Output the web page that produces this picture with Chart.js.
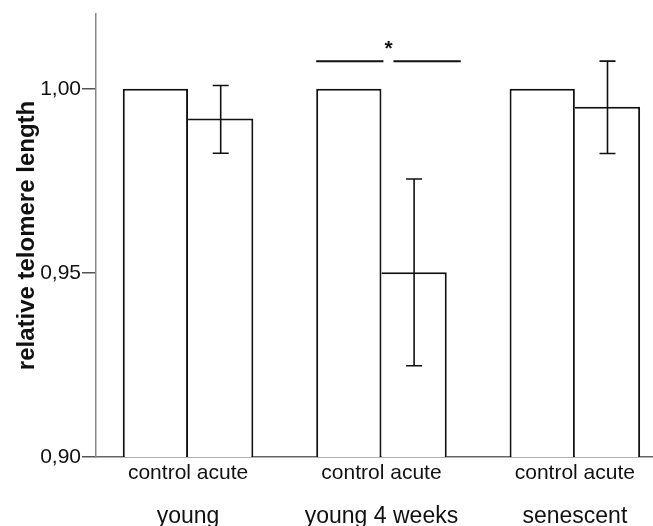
<!DOCTYPE html>
<html><head><meta charset="utf-8">
<script src="https://cdn.jsdelivr.net/npm/chart.js@4.4.0/dist/chart.umd.min.js"></script>
<style>html,body{margin:0;padding:0;background:#fff}#wrap{width:653px;height:526px;position:relative}</style>
</head><body><div id="wrap"><canvas id="c"></canvas></div>
<script>
// ---- data ----
const groups = ['young', 'young 4 weeks', 'senescent'];
const conditions = ['control', 'acute'];
const controlValues = [1.000, 1.000, 1.000];
const acuteValues = [0.9919, 0.9502, 0.9951];
const acuteErrLow = [0.9825, 0.9248, 0.9824];
const acuteErrHigh = [1.0009, 0.9755, 1.0075];
const yTicks = [0.90, 0.95, 1.00];
const sigGroup = 'young 4 weeks';
const sigLevel = 1.0075;
const sigLabel = '*';

const FONT = "'Liberation Sans', Arial, sans-serif";
Chart.defaults.font.family = FONT;

const overlay = {
  id: 'overlay',
  afterDatasetsDraw(chart) {
    const ctx = chart.ctx, ys = chart.scales.y;
    const acuteMeta = chart.getDatasetMeta(1);
    const ctrlMeta = chart.getDatasetMeta(0);
    ctx.save();
    ctx.strokeStyle = '#111';
    ctx.lineWidth = 1.6;
    acuteMeta.data.forEach((bar, i) => {
      const yh = ys.getPixelForValue(acuteErrHigh[i]);
      const yl = ys.getPixelForValue(acuteErrLow[i]);
      ctx.beginPath();
      ctx.moveTo(bar.x, yh); ctx.lineTo(bar.x, yl);
      ctx.moveTo(bar.x - 8, yh); ctx.lineTo(bar.x + 8, yh);
      ctx.moveTo(bar.x - 8, yl); ctx.lineTo(bar.x + 8, yl);
      ctx.stroke();
    });
    // significance bracket
    const gi = groups.indexOf(sigGroup);
    const cb = ctrlMeta.data[gi], ab = acuteMeta.data[gi];
    const x0 = cb.x - cb.width / 2;
    const x1 = ab.x + ab.width / 2 + 14;
    const xm = (x0 + x1) / 2;
    const yy = ys.getPixelForValue(sigLevel);
    ctx.lineWidth = 2;
    ctx.beginPath();
    ctx.moveTo(x0, yy); ctx.lineTo(xm - 5, yy);
    ctx.moveTo(xm + 5, yy); ctx.lineTo(x1, yy);
    ctx.stroke();
    ctx.fillStyle = '#111';
    ctx.font = 'bold 21px ' + FONT;
    ctx.textAlign = 'center';
    ctx.textBaseline = 'alphabetic';
    ctx.fillText(sigLabel, xm, yy - 6);
    ctx.restore();
  }
};

const xMin = -0.476, xMax = 2.404;
const groupTicks = s => { s.ticks = groups.map((_, i) => ({ value: i })); };

new Chart(document.getElementById('c'), {
  type: 'bar',
  data: {
    datasets: [
      {
        label: conditions[0],
        data: controlValues.map((v, i) => ({ x: i, y: v })),
        backgroundColor: '#ffffff', borderColor: '#111', borderWidth: 2,
        borderSkipped: false, categoryPercentage: 0.675, barPercentage: 1
      },
      {
        label: conditions[1],
        data: acuteValues.map((v, i) => ({ x: i, y: v })),
        backgroundColor: '#ffffff', borderColor: '#111', borderWidth: 2,
        borderSkipped: 'left', categoryPercentage: 0.675, barPercentage: 1
      }
    ]
  },
  options: {
    responsive: true, maintainAspectRatio: false, animation: false,
    layout: { padding: { top: 14, right: 0, left: 0, bottom: 0 } },
    plugins: { legend: { display: false }, tooltip: { enabled: false } },
    scales: {
      x: {
        type: 'linear', min: xMin, max: xMax, offset: false,
        afterBuildTicks: groupTicks,
        ticks: { callback: () => conditions.join(' '), font: { size: 21 }, color: '#111', padding: 4, maxRotation: 0, autoSkip: false },
        grid: { display: false, drawTicks: false, offset: false },
        border: { display: true, color: '#666', width: 1.5 },
        afterFit: s => { s.height = 30; }
      },
      x2: {
        type: 'linear', position: 'bottom', min: xMin, max: xMax, offset: false,
        afterBuildTicks: groupTicks,
        ticks: { callback: (v, i) => groups[i], font: { size: 23 }, color: '#111', padding: 16, maxRotation: 0, autoSkip: false },
        grid: { display: false, drawTicks: false },
        border: { display: false },
        afterFit: s => { s.height = 39; }
      },
      y: {
        min: 0.90, max: 1.0203, beginAtZero: false,
        afterBuildTicks: s => { s.ticks = yTicks.map(v => ({ value: v })); },
        ticks: { callback: v => v.toFixed(2).replace('.', ','), font: { size: 21 }, color: '#111', padding: 1 },
        grid: { drawOnChartArea: false, drawTicks: true, tickLength: 14, color: '#555', lineWidth: 1.5 },
        border: { display: true, color: '#888', width: 1.5 },
        title: { display: true, text: 'relative telomere length', font: { size: 24, weight: 'bold' }, color: '#111', padding: { top: 13, bottom: 0 } },
        afterFit: s => { s.width = 96; }
      }
    }
  },
  plugins: [overlay]
});
</script>
</body></html>
